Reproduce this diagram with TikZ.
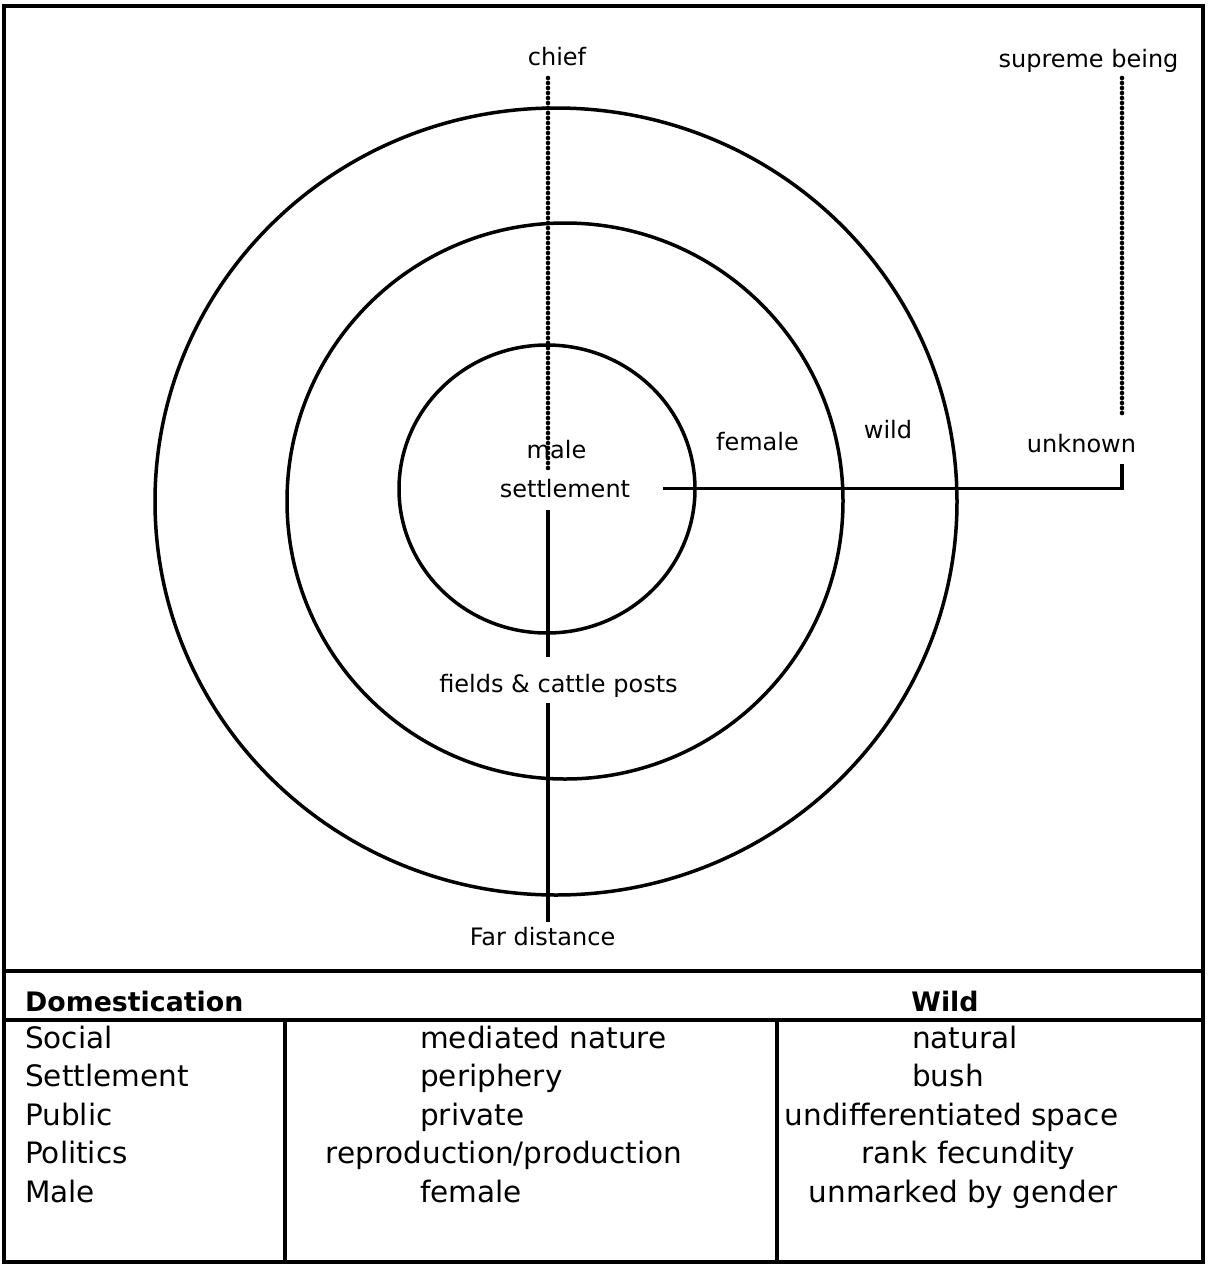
\documentclass[tikz,border=0pt]{standalone}
\usepackage{fontspec}
\setmainfont{DejaVu Sans}
\begin{document}
\begin{tikzpicture}[x=1pt,y=-1pt,
  ring/.style={line width=3.5pt},
  frame/.style={line width=3.5pt},
  solidcon/.style={line width=3.5pt},
  dotcon/.style={line width=4.6pt,line cap=round,dash pattern=on 0pt off 5pt},
  lbl/.style={anchor=base,inner sep=0pt,font=\fontsize{24}{28}\selectfont},
  tbl/.style={anchor=base west,inner sep=0pt,font=\fontsize{29.5}{34}\selectfont},
  tblc/.style={anchor=base,inner sep=0pt,font=\fontsize{29.5}{34}\selectfont},
  hdr/.style={inner sep=0pt,font=\bfseries\fontsize{26.8}{32}\selectfont}]
\useasboundingbox (0,0) rectangle (1210,1269);
% frame and table rules
\draw[frame] (4,6) rectangle (1203,1262);
\draw[frame] (4,971) -- (1203,971);
\draw[frame] (4,1020) -- (1203,1020);
\draw[frame] (285,1020) -- (285,1262);
\draw[frame] (777,1020) -- (777,1262);
% rings
\draw[ring] (556,501.5) ellipse [x radius=401,y radius=393.5];
\draw[ring] (565,501) circle [radius=278];
\draw[ring] (547,489) ellipse [x radius=148,y radius=144];
% labels
\node[lbl] (chief) at (557,65) {chief};
\node[lbl] (supreme) at (1088.5,67) {supreme being};
\node[lbl] (male) at (556.5,458) {male};
\node[lbl] (settle) at (565,497) {settlement};
\node[lbl] (female) at (757.5,450) {female};
\node[lbl] (wild) at (888,438) {wild};
\node[lbl] (unknown) at (1081.5,452) {unknown};
\node[lbl] (fields) at (558.5,692) {fields \& cattle posts};
\node[lbl] (far) at (542.5,945) {Far distance};
% connector points
\coordinate (c1) at (548,78);
\coordinate (c2) at (548,472);
\coordinate (s1) at (1122,78);
\coordinate (s2) at (1122,416);
\coordinate (h1) at (663,488.5);
\coordinate (h2) at (1122,488.5);
\coordinate (h3) at (1122,464);
\coordinate (v1) at (548,510);
\coordinate (v2) at (548,657);
\coordinate (v3) at (548,703);
\coordinate (v4) at (548,922);
% connectors
\draw[dotcon] (c1) -- (c2);
\draw[dotcon] (s1) -- (s2);
\draw[solidcon] (h1) -- (h2) -- (h3);
\draw[solidcon] (v1) -- (v2);
\draw[solidcon] (v3) -- (v4);
% table
\node[hdr,anchor=base west] (dom) at (25,1011) {Domestication};
\node[hdr,anchor=base] (wildh) at (945,1011) {Wild};
\node[tbl] (l1) at (25,1048) {Social};
\node[tbl] (l2) at (25,1086.5) {Settlement};
\node[tbl] (l3) at (25,1125) {Public};
\node[tbl] (l4) at (25,1163.5) {Politics};
\node[tbl] (l5) at (25,1202) {Male};
\node[tbl] (m1) at (420,1048) {mediated nature};
\node[tbl] (m2) at (420,1086.5) {periphery};
\node[tbl] (m3) at (420,1125) {private};
\node[tblc] (m4) at (504,1163.5) {reproduction/production};
\node[tbl] (m5) at (420,1202) {female};
\node[tbl] (r1) at (912,1048) {natural};
\node[tbl] (r2) at (912,1086.5) {bush};
\node[tblc] (r3) at (951.5,1125) {undifferentiated space};
\node[tblc] (r4) at (968.5,1163.5) {rank fecundity};
\node[tblc] (r5) at (963,1202) {unmarked by gender};
\end{tikzpicture}
\end{document}
